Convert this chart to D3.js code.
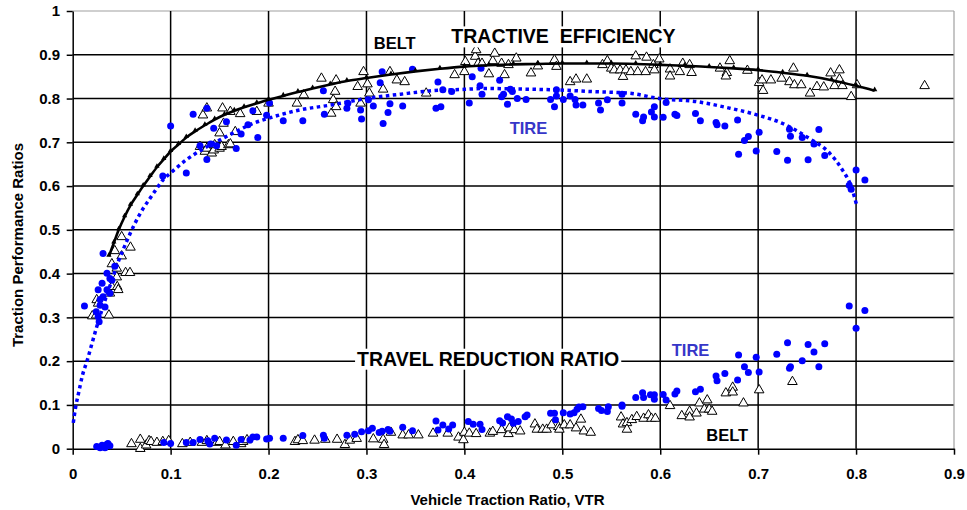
<!DOCTYPE html>
<html><head><meta charset="utf-8">
<script src="https://cdn.jsdelivr.net/npm/d3@7"></script>
<style>body{margin:0;background:#fff;} svg{display:block;font-family:"Liberation Sans",Arial,sans-serif;}</style>
</head><body><svg id="c" width="967" height="510"></svg>
<script>
const xTicks=[0,0.1,0.2,0.3,0.4,0.5,0.6,0.7,0.8,0.9];
const xTickLabels=["0","0.1","0.2","0.3","0.4","0.5","0.6","0.7","0.8","0.9"];
const yTicks=[0,0.1,0.2,0.3,0.4,0.5,0.6,0.7,0.8,0.9,1];
const yTickLabels=["0","0.1","0.2","0.3","0.4","0.5","0.6","0.7","0.8","0.9","1"];
const xTitle="Vehicle Traction Ratio, VTR";
const yTitle="Traction Performance Ratios";

// Tire tractive efficiency (VTR, TE)
const tireTE=[[0.012,0.326],[0.024,0.313],[0.026,0.302],[0.027,0.290],[0.026,0.363],[0.028,0.341],[0.028,0.328],[0.030,0.378],[0.031,0.347],[0.031,0.446],[0.033,0.324],[0.035,0.401],[0.035,0.363],[0.038,0.389],[0.038,0.355],[0.040,0.385],[0.043,0.417],
[0.092,0.623],[0.100,0.737],[0.116,0.630],[0.123,0.764],[0.130,0.692],[0.137,0.778],[0.137,0.661],[0.141,0.696],[0.144,0.732],[0.147,0.692],[0.157,0.747],[0.167,0.686],[0.172,0.719],[0.179,0.740],[0.184,0.772],[0.189,0.711],[0.198,0.762],[0.201,0.790],[0.215,0.749],[0.235,0.749],[0.256,0.818],[0.257,0.764],[0.280,0.778],[0.281,0.789],[0.294,0.774],[0.295,0.753],[0.302,0.797],[0.307,0.783],[0.314,0.836],[0.316,0.861],[0.317,0.743],[0.322,0.768],[0.324,0.788],[0.337,0.783],[0.347,0.867],[0.371,0.778],[0.376,0.781],[0.373,0.838],[0.378,0.820],[0.387,0.816],[0.405,0.790],[0.408,0.850],[0.416,0.829],[0.418,0.810],[0.417,0.869],[0.436,0.842],[0.438,0.804],[0.440,0.810],[0.444,0.787],[0.447,0.821],[0.449,0.816],[0.454,0.800],[0.463,0.798],[0.488,0.798],[0.492,0.781],[0.494,0.820],[0.494,0.806],[0.501,0.798],[0.508,0.806],[0.513,0.798],[0.514,0.785],[0.521,0.785],[0.537,0.790],[0.539,0.774],[0.546,0.797],[0.561,0.790],[0.561,0.810],[0.575,0.764],[0.582,0.749],[0.583,0.758],[0.591,0.769],[0.594,0.781],[0.594,0.758],[0.603,0.757],[0.606,0.791],[0.615,0.764],[0.617,0.761],[0.636,0.766],[0.641,0.749],[0.657,0.745],[0.658,0.740],[0.666,0.737],[0.679,0.751],[0.680,0.673],[0.686,0.704],[0.690,0.713],[0.698,0.680],[0.701,0.723],[0.719,0.679],[0.730,0.659],[0.732,0.730],[0.733,0.714],[0.745,0.711],[0.751,0.660],[0.757,0.696],[0.762,0.729],[0.768,0.670],[0.793,0.602],[0.795,0.593],[0.800,0.637],[0.809,0.614]];

// Tire travel reduction ratio (VTR, TRR)
const tireTRR=[[0.0245,0.005],[0.028,0.002],[0.031,0.005],[0.033,0.002],[0.035,0.010],[0.036,0.012],[0.038,0.007],[0.030,0.008],[0.093,0.014],[0.100,0.012],[0.116,0.014],[0.123,0.014],[0.130,0.021],[0.138,0.018],[0.140,0.011],[0.145,0.024],[0.157,0.020],[0.167,0.008],[0.172,0.021],[0.181,0.020],[0.184,0.027],[0.188,0.027],[0.198,0.022],[0.201,0.024],[0.215,0.024],[0.235,0.030],[0.256,0.031],[0.257,0.024],[0.280,0.031],[0.288,0.033],[0.295,0.039],[0.302,0.041],[0.306,0.047],[0.313,0.037],[0.316,0.040],[0.322,0.044],[0.324,0.040],[0.337,0.049],[0.347,0.041],[0.371,0.063],[0.373,0.043],[0.378,0.054],[0.384,0.045],[0.388,0.054],[0.404,0.062],[0.409,0.056],[0.416,0.056],[0.418,0.044],[0.436,0.064],[0.439,0.059],[0.444,0.073],[0.448,0.068],[0.450,0.058],[0.455,0.062],[0.462,0.073],[0.464,0.077],[0.488,0.081],[0.492,0.081],[0.493,0.066],[0.501,0.082],[0.508,0.079],[0.512,0.082],[0.515,0.090],[0.517,0.095],[0.521,0.096],[0.537,0.092],[0.540,0.087],[0.546,0.085],[0.547,0.096],[0.561,0.100],[0.561,0.097],[0.575,0.117],[0.582,0.128],[0.583,0.117],[0.590,0.123],[0.594,0.123],[0.594,0.113],[0.603,0.124],[0.606,0.111],[0.615,0.125],[0.617,0.132],[0.636,0.130],[0.641,0.136],[0.657,0.166],[0.658,0.155],[0.666,0.172],[0.679,0.157],[0.680,0.214],[0.686,0.187],[0.690,0.174],[0.698,0.209],[0.701,0.175],[0.719,0.216],[0.730,0.242],[0.732,0.184],[0.733,0.187],[0.745,0.201],[0.751,0.238],[0.757,0.221],[0.762,0.187],[0.768,0.240],[0.793,0.326],[0.800,0.275],[0.809,0.316]];

// Belt tractive efficiency (VTR, TE)
const beltTE=[[0.020,0.303],[0.024,0.305],[0.0245,0.340],[0.026,0.332],[0.037,0.305],[0.038,0.355],[0.040,0.422],[0.040,0.370],[0.043,0.452],[0.045,0.412],[0.045,0.392],[0.0455,0.370],[0.0465,0.363],[0.050,0.484],[0.050,0.440],[0.054,0.402],[0.0585,0.402],[0.059,0.460],
[0.130,0.690],[0.133,0.762],[0.135,0.679],[0.137,0.778],[0.137,0.686],[0.142,0.675],[0.144,0.682],[0.145,0.694],[0.150,0.721],[0.150,0.686],[0.152,0.690],[0.153,0.778],[0.154,0.743],[0.159,0.694],[0.161,0.770],[0.161,0.696],[0.166,0.724],[0.171,0.765],[0.188,0.770],[0.200,0.789],[0.229,0.789],[0.236,0.808],[0.254,0.846],[0.264,0.766],[0.266,0.797],[0.268,0.816],[0.269,0.842],[0.269,0.781],[0.291,0.827],[0.294,0.789],[0.297,0.861],[0.301,0.833],[0.303,0.812],[0.317,0.821],[0.324,0.861],[0.331,0.842],[0.339,0.838],[0.361,0.812],[0.390,0.854],[0.400,0.861],[0.401,0.884],[0.411,0.896],[0.412,0.911],[0.414,0.880],[0.418,0.880],[0.425,0.856],[0.429,0.886],[0.431,0.903],[0.438,0.880],[0.441,0.854],[0.445,0.877],[0.453,0.892],[0.468,0.858],[0.475,0.874],[0.492,0.888],[0.494,0.873],[0.508,0.838],[0.514,0.844],[0.525,0.844],[0.541,0.877],[0.546,0.886],[0.550,0.869],[0.553,0.865],[0.559,0.865],[0.562,0.850],[0.565,0.865],[0.570,0.861],[0.575,0.897],[0.577,0.861],[0.585,0.861],[0.586,0.894],[0.593,0.877],[0.594,0.865],[0.599,0.890],[0.610,0.867],[0.610,0.851],[0.620,0.861],[0.623,0.880],[0.630,0.877],[0.632,0.859],[0.661,0.869],[0.668,0.859],[0.667,0.851],[0.671,0.886],[0.689,0.864],[0.701,0.836],[0.704,0.842],[0.705,0.818],[0.713,0.842],[0.724,0.846],[0.732,0.838],[0.736,0.869],[0.737,0.831],[0.744,0.831],[0.753,0.812],[0.760,0.827],[0.767,0.826],[0.774,0.858],[0.778,0.829],[0.783,0.865],[0.783,0.844],[0.786,0.829],[0.795,0.804],[0.801,0.831],[0.870,0.829]];

// Belt travel reduction ratio (VTR, TRR)
const beltTRR=[[0.060,0.011],[0.069,0.021],[0.069,0.000],[0.075,0.008],[0.078,0.018],[0.080,0.016],[0.086,0.014],[0.092,0.016],[0.098,0.018],[0.112,0.011],[0.120,0.014],[0.132,0.014],[0.137,0.018],[0.147,0.014],[0.150,0.016],[0.156,0.008],[0.164,0.016],[0.172,0.011],[0.174,0.016],[0.178,0.020],[0.227,0.016],[0.230,0.020],[0.235,0.018],[0.247,0.019],[0.258,0.021],[0.270,0.021],[0.278,0.009],[0.283,0.019],[0.290,0.023],[0.307,0.022],[0.317,0.021],[0.318,0.009],[0.325,0.037],[0.337,0.031],[0.343,0.031],[0.353,0.031],[0.368,0.035],[0.383,0.035],[0.394,0.026],[0.399,0.020],[0.400,0.037],[0.405,0.035],[0.412,0.034],[0.426,0.035],[0.429,0.039],[0.438,0.043],[0.445,0.034],[0.446,0.047],[0.451,0.043],[0.457,0.040],[0.472,0.056],[0.474,0.044],[0.480,0.044],[0.484,0.044],[0.489,0.054],[0.496,0.050],[0.497,0.044],[0.502,0.054],[0.508,0.054],[0.514,0.047],[0.519,0.067],[0.522,0.040],[0.529,0.037],[0.560,0.072],[0.562,0.056],[0.566,0.059],[0.566,0.044],[0.571,0.066],[0.576,0.073],[0.583,0.069],[0.588,0.077],[0.591,0.069],[0.595,0.069],[0.610,0.098],[0.622,0.075],[0.630,0.085],[0.630,0.072],[0.637,0.081],[0.640,0.104],[0.645,0.090],[0.648,0.111],[0.650,0.090],[0.653,0.085],[0.667,0.127],[0.674,0.140],[0.674,0.129],[0.685,0.104],[0.701,0.134],[0.735,0.153]];

// Fitted tractive-efficiency curves
const beltFit=[[0.037,0.440],[0.042,0.470],[0.047,0.500],[0.053,0.530],[0.059,0.556],[0.066,0.580],[0.072,0.600],[0.079,0.622],[0.086,0.643],[0.093,0.661],[0.100,0.679],[0.108,0.695],[0.116,0.711],[0.125,0.725],[0.135,0.739],[0.145,0.752],[0.155,0.763],[0.165,0.772],[0.175,0.780],[0.188,0.789],[0.200,0.797],[0.215,0.806],[0.230,0.815],[0.245,0.823],[0.263,0.832],[0.280,0.840],[0.300,0.847],[0.325,0.855],[0.350,0.862],[0.375,0.868],[0.400,0.873],[0.425,0.876],[0.450,0.878],[0.475,0.879],[0.500,0.880],[0.525,0.880],[0.550,0.880],[0.575,0.879],[0.600,0.877],[0.625,0.875],[0.650,0.872],[0.675,0.869],[0.700,0.865],[0.725,0.859],[0.750,0.852],[0.775,0.842],[0.800,0.829],[0.819,0.818]];
const tireFit=[[0.0006,0.059],[0.003,0.095],[0.006,0.127],[0.010,0.168],[0.015,0.203],[0.020,0.243],[0.025,0.282],[0.030,0.318],[0.035,0.352],[0.040,0.385],[0.0465,0.427],[0.055,0.473],[0.0636,0.515],[0.072,0.549],[0.079,0.572],[0.086,0.595],[0.0925,0.615],[0.100,0.630],[0.116,0.660],[0.135,0.687],[0.150,0.705],[0.167,0.725],[0.184,0.743],[0.200,0.755],[0.232,0.774],[0.263,0.785],[0.300,0.800],[0.335,0.810],[0.368,0.818],[0.400,0.821],[0.4225,0.823],[0.450,0.822],[0.497,0.8195],[0.530,0.816],[0.569,0.812],[0.599,0.800],[0.637,0.793],[0.671,0.778],[0.700,0.762],[0.725,0.743],[0.752,0.709],[0.773,0.675],[0.786,0.637],[0.795,0.599],[0.801,0.553]];

// Annotations: text, VTR of left edge, ratio of baseline, colour, font size, white box
const annText=["BELT","TRACTIVE  EFFICIENCY","TIRE","TRAVEL REDUCTION RATIO","TIRE","BELT"];
const annX=[0.3075,0.3867,0.4462,0.2904,0.6118,0.647];
const annY=[0.9125,0.926,0.718,0.1896,0.2118,0.0183];
const annColor=["#000","#000","#3636c8","#000","#3636c8","#000"];
const annSize=[16.5,19.5,16.5,19.5,16.5,16.5];
const annBox=[false,true,false,true,false,false];

const W=967,H=510,m={l:72.7,t:11,r:13,b:61.3};
const svg=d3.select("#c");
const x=d3.scaleLinear().domain([0,0.9]).range([m.l,W-m.r]);
const y=d3.scaleLinear().domain([0,1]).range([H-m.b,m.t]);

// grid
const g=svg.append("g");
g.selectAll("line.h").data(yTicks.filter(d=>d>0)).join("line")
 .attr("x1",m.l).attr("x2",W-m.r).attr("y1",d=>y(d)).attr("y2",d=>y(d))
 .attr("stroke",d=>d===1?"#a0a0a0":"#000").attr("stroke-width",d=>d===1?1.2:1.5);
g.selectAll("line.v").data(xTicks.filter(d=>d>0)).join("line")
 .attr("y1",m.t).attr("y2",H-m.b).attr("x1",d=>x(d)).attr("x2",d=>x(d))
 .attr("stroke",d=>d===0.9?"#a0a0a0":"#000").attr("stroke-width",d=>d===0.9?1.2:1.5);

// axes
const ax=svg.append("g").attr("transform",`translate(0,${H-m.b})`)
 .call(d3.axisBottom(x).tickValues(xTicks).tickFormat((d,i)=>xTickLabels[i]).tickSize(6).tickSizeOuter(0).tickPadding(14));
const ay=svg.append("g").attr("transform",`translate(${m.l},0)`)
 .call(d3.axisLeft(y).tickValues(yTicks).tickFormat((d,i)=>yTickLabels[i]).tickSize(6).tickSizeOuter(0).tickPadding(6.7));
[ax,ay].forEach(a=>{
  a.select(".domain").attr("stroke","#000").attr("stroke-width",1.5);
  a.selectAll(".tick line").attr("stroke","#000").attr("stroke-width",1.5);
  a.selectAll(".tick text").attr("font-size",15).attr("font-weight","bold").attr("fill","#000")
   .attr("font-family","'Liberation Sans',Arial,sans-serif");
});

// titles
svg.append("text").attr("x",507.5).attr("y",505).attr("text-anchor","middle")
 .attr("font-size",15).attr("font-weight","bold").text(xTitle);
svg.append("text").attr("transform","translate(22.7,245) rotate(-90)").attr("text-anchor","middle")
 .attr("font-size",15).attr("font-weight","bold").text(yTitle);

// markers
const tri=d3.symbol().type(d3.symbolTriangle).size(40);
const data=svg.append("g");
[beltTE,beltTRR].forEach(arr=>{
  data.append("g").selectAll("path").data(arr).join("path")
   .attr("d",tri).attr("transform",d=>`translate(${x(d[0])},${y(d[1])})`)
   .attr("fill","#fff").attr("stroke","#000").attr("stroke-width",1);
});
[tireTE,tireTRR].forEach(arr=>{
  data.append("g").selectAll("circle").data(arr).join("circle")
   .attr("cx",d=>x(d[0])).attr("cy",d=>y(d[1])).attr("r",3.5).attr("fill","#0000ff");
});

// fitted curves
const line=d3.line().x(d=>x(d[0])).y(d=>y(d[1])).curve(d3.curveMonotoneX);
data.append("path").attr("d",line(beltFit)).attr("fill","none").attr("stroke","#000").attr("stroke-width",2.6);
const smallTri=d3.symbol().type(d3.symbolTriangle).size(12);
data.append("g").selectAll("path").data(beltFit).join("path")
 .attr("d",smallTri).attr("transform",d=>`translate(${x(d[0])},${y(d[1])-1})`).attr("fill","#000");
data.append("path").attr("d",line(tireFit)).attr("fill","none").attr("stroke","#0000ff")
 .attr("stroke-width",3.5).attr("stroke-dasharray","3.5,3.5");

// annotations
const an=svg.append("g");
annText.forEach((t,i)=>{
  const gg=an.append("g");
  const tx=gg.append("text").attr("x",x(annX[i])).attr("y",y(annY[i]))
   .attr("font-size",annSize[i]).attr("font-weight","bold").attr("fill",annColor[i])
   .attr("xml:space","preserve").style("white-space","pre").text(t);
  if(annBox[i]){
    const b=tx.node().getBBox();
    gg.insert("rect","text").attr("x",b.x-2).attr("y",b.y+1).attr("width",b.width+4).attr("height",b.height-1).attr("fill","#fff");
  }
});
</script></body></html>
